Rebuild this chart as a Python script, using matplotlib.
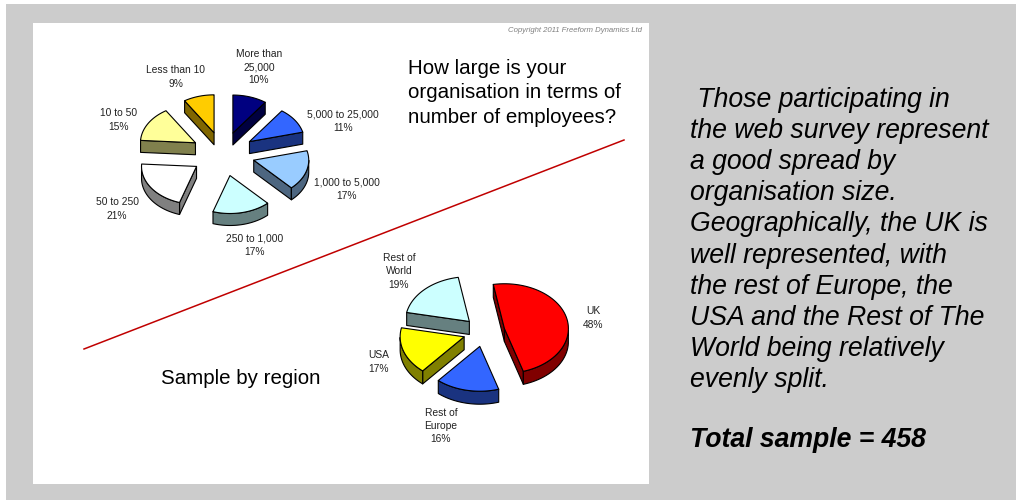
import numpy as np
import matplotlib
matplotlib.use("Agg")
import matplotlib.pyplot as plt
from matplotlib.patches import Polygon, Rectangle

plt.rcParams['font.family'] = ['Liberation Sans', 'DejaVu Sans']

# Organisation size breakdown (percent), clockwise from the top
size_labels = ["More than\n25,000\n10%", "5,000 to 25,000\n11%", "1,000 to 5,000\n17%",
               "250 to 1,000\n17%", "50 to 250\n21%", "10 to 50\n15%", "Less than 10\n9%"]
size_values = [10, 11, 17, 17, 21, 15, 9]
size_colors = ["#000080", "#3366FF", "#99CCFF", "#CCFFFF", "#FFFFFF", "#FFFF99", "#FFCC00"]
size_label_xy = [(259, 67), (343, 121), (347, 189), (255, 245), (117, 209), (119, 120), (176, 77)]

# Regional breakdown (percent)
region_labels = ["UK\n48%", "Rest of\nEurope\n16%", "USA\n17%", "Rest of\nWorld\n19%"]
region_values = [48, 16, 17, 19]
region_colors = ["#FF0000", "#3366FF", "#FFFF00", "#CCFFFF"]
region_label_xy = [(593, 318), (441, 426), (379, 362), (399, 271.5)]

side_text = (" Those participating in\nthe web survey represent\na good spread by\n"
             "organisation size.\nGeographically, the UK is\nwell represented, with\n"
             "the rest of Europe, the\nUSA and the Rest of The\nWorld being relatively\n"
             "evenly split.")

W, H = 1016, 500
fig = plt.figure(figsize=(W / 100, H / 100), dpi=100, facecolor="white")
ax = fig.add_axes([0, 0, 1, 1])
ax.set_xlim(0, W)
ax.set_ylim(H, 0)
ax.axis("off")

ax.add_patch(Rectangle((6, 4), W - 6, H - 4, fc="#CCCCCC", ec="none", zorder=0))
ax.add_patch(Rectangle((33, 23), 616, 461, fc="white", ec="none", zorder=1))


def shade(color):
    r, g, b = matplotlib.colors.to_rgb(color)
    return (r * 0.5, g * 0.5, b * 0.5)


def draw_pie(values, colors, cx, cy, radius, squash, depth, explode, start):
    """Exploded pie with extruded walls, clockwise from `start` degrees off vertical."""
    total = sum(values)
    a0 = start
    for value, color in zip(values, colors):
        a1 = a0 + value / total * 360
        mid = np.radians((a0 + a1) / 2)
        ox = cx + explode * np.sin(mid)
        oy = cy - explode * squash * np.cos(mid)
        th = np.radians(np.linspace(a0, a1, 60))
        ax_x = ox + radius * np.sin(th)
        ax_y = oy - radius * squash * np.cos(th)
        dark = shade(color)
        style = dict(ec="black", lw=0.8, joinstyle="round", zorder=3)

        # Walls whose outward side faces the viewer, then the top face
        walls = []
        for (xa, ya, xb, yb) in [(ax_x[0], ax_y[0], ox, oy), (ox, oy, ax_x[-1], ax_y[-1])]:
            # outward normal of a clockwise outline (screen y pointing down)
            if (xb - xa) > 0:
                walls.append([(xa, ya), (xb, yb), (xb, yb + depth), (xa, ya + depth)])
        front = np.cos(th) < 0
        if front.any():
            fx, fy = ax_x[front], ax_y[front]
            walls.append(list(zip(fx, fy)) + list(zip(fx[::-1], fy[::-1] + depth)))
        for quad in walls:
            ax.add_patch(Polygon(quad, closed=True, fc=dark, **style))
        outline = [(ox, oy)] + list(zip(ax_x, ax_y))
        ax.add_patch(Polygon(outline, closed=True, fc=color, **style))
        a0 = a1


draw_pie(size_values, size_colors, 223, 154, 55, 0.69, 12, 32, 0)
draw_pie(region_values, region_colors, 484, 332, 64, 0.70, 13, 21, 350)

label_style = dict(ha="center", va="center", multialignment="center", fontsize=7.4,
                   color="#222222", linespacing=1.43, zorder=4)
for text, (x, y) in zip(size_labels + region_labels, size_label_xy + region_label_xy):
    ax.text(x, y, text, **label_style)

ax.plot([84, 624], [349, 140], color="#C00000", lw=1.1, zorder=2)

ax.text(408, 93, "How large is your\norganisation in terms of\nnumber of employees?",
        fontsize=14.75, color="black", ha="left", va="center", linespacing=1.37, zorder=4)
ax.text(161, 378, "Sample by region", fontsize=14.8, color="black",
        ha="left", va="center", zorder=4)
ax.text(642, 30.5, "Copyright 2011 Freeform Dynamics Ltd", fontsize=5.55, style="italic",
        color="#808080", ha="right", va="center", zorder=4)

ax.text(690, 240, side_text, fontsize=19.2, style="italic", color="black",
        ha="left", va="center", linespacing=1.26, zorder=4)
ax.text(690, 440, "Total sample = 458", fontsize=19.15, style="italic", weight="bold",
        color="black", ha="left", va="center", zorder=4)

fig.savefig("out.png", dpi=100, facecolor="white")
